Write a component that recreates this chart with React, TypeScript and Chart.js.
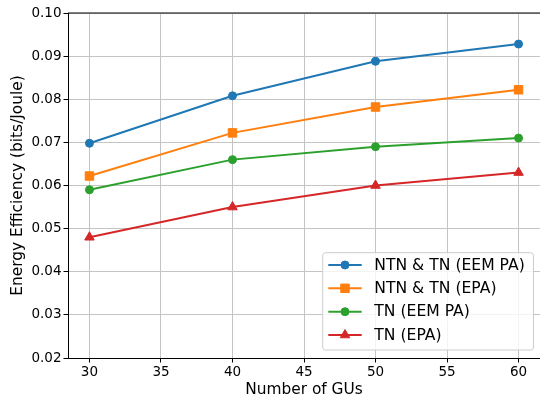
import React, { useEffect, useRef } from "react";
import { Chart, registerables } from "chart.js";

Chart.register(...registerables);

const xValues = [30, 40, 50, 60];
const ntnTnEemPa = [0.0698, 0.0808, 0.0888, 0.0928];
const ntnTnEpa = [0.0622, 0.0722, 0.0782, 0.0822];
const tnEemPa = [0.059, 0.066, 0.069, 0.071];
const tnEpa = [0.048, 0.055, 0.06, 0.063];

const seriesLabels = ["NTN & TN (EEM PA)", "NTN & TN (EPA)", "TN (EEM PA)", "TN (EPA)"];
const seriesColors = ["#1f77b4", "#ff7f0e", "#2ca02c", "#d62728"];
const seriesMarkers = ["circle", "rect", "circle", "triangle"];
const seriesRadius = [4, 6, 4, 5.5];

const xTicks = [30, 35, 40, 45, 50, 55, 60];
const yTicks = [0.02, 0.03, 0.04, 0.05, 0.06, 0.07, 0.08, 0.09, 0.1];

const FONT = "'DejaVu Sans', sans-serif";

function drawMarker(ctx: CanvasRenderingContext2D, style: string, x: number, y: number, r: number) {
  ctx.beginPath();
  if (style === "circle") {
    ctx.arc(x, y, r, 0, Math.PI * 2);
  } else if (style === "rect") {
    const s = Math.SQRT1_2 * r;
    ctx.rect(x - s, y - s, 2 * s, 2 * s);
  } else if (style === "triangle") {
    let rad = 0;
    ctx.moveTo(x + Math.sin(rad) * r, y - Math.cos(rad) * r);
    rad += (2 * Math.PI) / 3;
    ctx.lineTo(x + Math.sin(rad) * r, y - Math.cos(rad) * r);
    rad += (2 * Math.PI) / 3;
    ctx.lineTo(x + Math.sin(rad) * r, y - Math.cos(rad) * r);
    ctx.closePath();
  }
  ctx.fill();
  ctx.stroke();
}

const framePlugin = {
  id: "framePlugin",
  afterDraw(chart: any) {
    const { ctx, chartArea } = chart;
    ctx.save();
    ctx.strokeStyle = "#000";
    ctx.lineWidth = 1;
    ctx.beginPath();
    ctx.moveTo(chartArea.left, chartArea.top);
    ctx.lineTo(chartArea.right, chartArea.top);
    ctx.stroke();

    const boxL = 322.7, boxT = 252.7, boxR = 533.5, boxB = 350;
    ctx.fillStyle = "rgba(255,255,255,0.8)";
    ctx.strokeStyle = "#cccccc";
    ctx.lineWidth = 1;
    ctx.beginPath();
    (ctx as any).roundRect(boxL, boxT, boxR - boxL, boxB - boxT, 3);
    ctx.fill();
    ctx.stroke();

    const rowY = [265, 288.3, 311.7, 335];
    chart.data.datasets.forEach((ds: any, i: number) => {
      const y = rowY[i];
      ctx.strokeStyle = ds.borderColor;
      ctx.lineWidth = 2;
      ctx.beginPath();
      ctx.moveTo(328.3, y);
      ctx.lineTo(361.7, y);
      ctx.stroke();
      ctx.fillStyle = ds.pointBackgroundColor;
      ctx.strokeStyle = ds.pointBorderColor;
      ctx.lineWidth = 1;
      drawMarker(ctx, ds.pointStyle, 345, y, ds.pointRadius);
      ctx.fillStyle = "#000";
      ctx.font = `15.6px ${FONT}`;
      ctx.textAlign = "left";
      ctx.textBaseline = "middle";
      ctx.fillText(ds.label, 374.3, y + 0.5);
    });
    ctx.restore();
  },
};

export default function App() {
  const canvasRef = useRef<HTMLCanvasElement | null>(null);

  useEffect(() => {
    if (!canvasRef.current) return;
    const seriesValues = [ntnTnEemPa, ntnTnEpa, tnEemPa, tnEpa];
    const datasets = seriesValues.map((vals, i) => ({
      label: seriesLabels[i],
      data: xValues.map((x, j) => ({ x, y: vals[j] })),
      borderColor: seriesColors[i],
      backgroundColor: seriesColors[i],
      pointBackgroundColor: seriesColors[i],
      pointBorderColor: seriesColors[i],
      pointStyle: seriesMarkers[i],
      pointRadius: seriesRadius[i],
      pointBorderWidth: 1,
      borderWidth: 2,
      tension: 0,
      fill: false,
    }));

    const chart = new Chart(canvasRef.current, {
      type: "line",
      data: { datasets },
      plugins: [framePlugin],
      options: {
        animation: false,
        responsive: false,
        devicePixelRatio: 1,
        layout: { autoPadding: false, padding: { top: 13, right: -2, left: 0, bottom: 0 } },
        plugins: {
          legend: { display: false },
          tooltip: { enabled: false },
        },
        scales: {
          x: {
            type: "linear",
            min: 28.5,
            max: 61.5,
            afterBuildTicks: (scale: any) => {
              scale.ticks = xTicks.map((v) => ({ value: v }));
            },
            afterFit: (scale: any) => {
              scale.height = 40;
              scale.paddingLeft = 0;
              scale.paddingRight = 0;
            },
            ticks: {
              color: "#000",
              font: { family: FONT, size: 13.5 },
              padding: 2,
              maxRotation: 0,
              autoSkip: false,
              callback: (v: any) => String(v),
            },
            grid: {
              color: "#c4c4c4",
              lineWidth: 1,
              drawTicks: true,
              tickLength: 4.5,
              tickColor: "#000",
              tickWidth: 1,
            },
            border: { color: "#000", width: 1 },
            title: {
              display: true,
              text: "Number of GUs",
              color: "#000",
              font: { family: FONT, size: 15.4, lineHeight: 1 },
              padding: { top: 0, bottom: 0 },
            },
          },
          y: {
            type: "linear",
            min: 0.02,
            max: 0.1,
            afterBuildTicks: (scale: any) => {
              scale.ticks = yTicks.map((v) => ({ value: v }));
            },
            afterFit: (scale: any) => {
              scale.width = 68;
              scale.paddingTop = 0;
              scale.paddingBottom = 0;
            },
            ticks: {
              color: "#000",
              font: { family: FONT, size: 13.5 },
              padding: 2,
              autoSkip: false,
              callback: (v: any) => Number(v).toFixed(2),
            },
            grid: {
              color: "#c4c4c4",
              lineWidth: 1,
              drawTicks: true,
              tickLength: 4.5,
              tickColor: "#000",
              tickWidth: 1,
            },
            border: { color: "#000", width: 1 },
            title: {
              display: true,
              text: "Energy Efficiency (bits/Joule)",
              color: "#000",
              font: { family: FONT, size: 15.4, lineHeight: 1 },
              padding: { top: 10, bottom: 0 },
            },
          },
        },
      },
    } as any);
    return () => chart.destroy();
  }, []);

  return (
    <div style={{ position: "absolute", left: 0, top: 0, width: 540, height: 398, background: "#fff" }}>
      <canvas ref={canvasRef} width={540} height={398} style={{ display: "block", width: 540, height: 398 }} />
    </div>
  );
}
